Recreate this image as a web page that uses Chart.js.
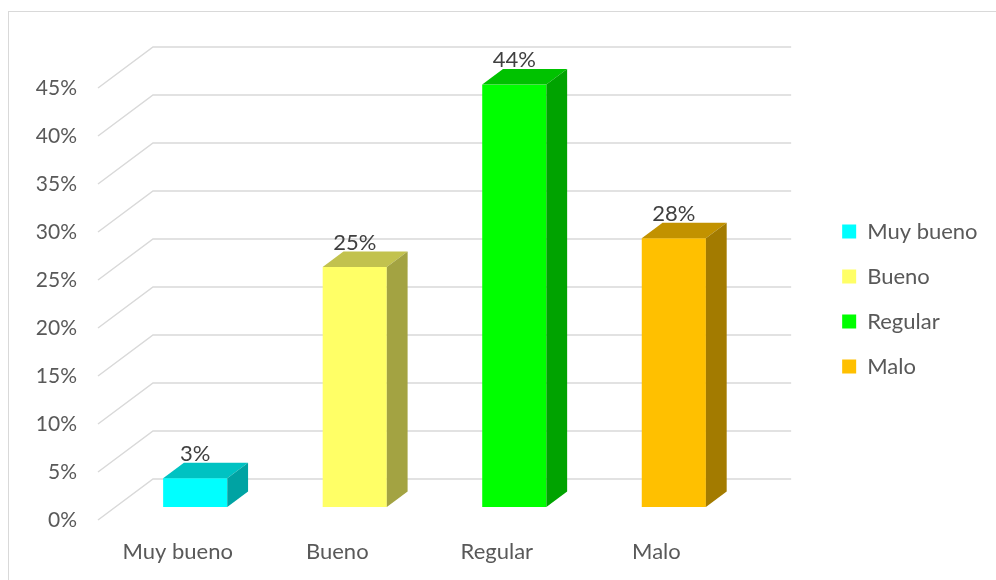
<!DOCTYPE html>
<html>
<head>
<meta charset="utf-8">
<script src="https://cdn.jsdelivr.net/npm/chart.js@4"></script>
<style>
  body { margin: 0; background: #fff; }
  #marco { position: absolute; left: 8px; top: 11px; width: 1000px; height: 600px; border: 1.5px solid #d9d9d9; }
  #grafico { position: absolute; left: 0; top: 0; }
</style>
</head>
<body>
<div id="marco"></div>
<canvas id="grafico" width="996" height="580"></canvas>
<script>
// Datos del gráfico
var categorias = ['Muy bueno', 'Bueno', 'Regular', 'Malo'];
var porcentajes = [3, 25, 44, 28];
var marcasY = [0, 5, 10, 15, 20, 25, 30, 35, 40, 45];

// Colores de cada barra: cara frontal, tapa y lateral
var coloresFrente = ['#00FFFF', '#FFFF66', '#00FF00', '#FFC000'];
var coloresTapa = ['#00C2C2', '#C2C24E', '#00C200', '#C29200'];
var coloresLado = ['#00A3A3', '#A3A342', '#00A300', '#A37B00'];

// Desplazamiento de la perspectiva (pared del fondo) y posición de las barras en profundidad
var FONDO_DX = 55, FONDO_DY = -41;
var BARRA_FRENTE = 0.317, BARRA_FONDO = 0.695;

var fuente = 'Lato, "Open Sans", sans-serif';

// Plugin que dibuja la pared con la cuadrícula y las barras en 3D
var efecto3D = {
    id: 'efecto3D',
    beforeDatasetsDraw: function (chart) {
        var ctx = chart.ctx;
        var area = chart.chartArea;
        var y = chart.scales.y;
        ctx.save();
        ctx.strokeStyle = '#d9d9d9';
        ctx.lineWidth = 1.5;
        marcasY.forEach(function (v) {
            var py = y.getPixelForValue(v);
            ctx.beginPath();
            ctx.moveTo(area.left, py);
            ctx.lineTo(area.left + FONDO_DX, py + FONDO_DY);
            ctx.lineTo(area.right + FONDO_DX, py + FONDO_DY);
            ctx.stroke();
        });
        ctx.restore();
    },
    afterDatasetsDraw: function (chart) {
        var ctx = chart.ctx;
        var meta = chart.getDatasetMeta(0);
        var dx0 = FONDO_DX * BARRA_FRENTE, dy0 = FONDO_DY * BARRA_FRENTE;
        var pdx = FONDO_DX * (BARRA_FONDO - BARRA_FRENTE), pdy = FONDO_DY * (BARRA_FONDO - BARRA_FRENTE);
        ctx.save();
        meta.data.forEach(function (bar, i) {
            var x0 = bar.x - bar.width / 2 + dx0;
            var x1 = bar.x + bar.width / 2 + dx0;
            var arriba = bar.y + dy0;
            var abajo = bar.base + dy0;

            // cara frontal
            ctx.fillStyle = coloresFrente[i];
            ctx.fillRect(x0, arriba, x1 - x0, abajo - arriba);

            // tapa
            ctx.fillStyle = coloresTapa[i];
            ctx.beginPath();
            ctx.moveTo(x0, arriba);
            ctx.lineTo(x1, arriba);
            ctx.lineTo(x1 + pdx, arriba + pdy);
            ctx.lineTo(x0 + pdx, arriba + pdy);
            ctx.closePath();
            ctx.fill();

            // lateral
            ctx.fillStyle = coloresLado[i];
            ctx.beginPath();
            ctx.moveTo(x1, arriba);
            ctx.lineTo(x1 + pdx, arriba + pdy);
            ctx.lineTo(x1 + pdx, abajo + pdy);
            ctx.lineTo(x1, abajo);
            ctx.closePath();
            ctx.fill();

            // etiqueta con el valor
            ctx.fillStyle = '#404040';
            ctx.font = '22px ' + fuente;
            ctx.textAlign = 'center';
            ctx.textBaseline = 'alphabetic';
            ctx.fillText(porcentajes[i] + '%', (x0 + x1) / 2, arriba + pdy - 2);
        });
        ctx.restore();
    }
};

var ctx = document.getElementById('grafico').getContext('2d');
var grafico = new Chart(ctx, {
    type: 'bar',
    data: {
        labels: categorias,
        datasets: [{
            label: 'Porcentaje',
            data: porcentajes,
            backgroundColor: 'rgba(0,0,0,0)',
            borderWidth: 0,
            categoryPercentage: 1,
            barPercentage: 0.402
        }]
    },
    options: {
        responsive: false,
        animation: false,
        layout: { padding: { top: 88, right: 13, bottom: 0, left: 0 } },
        plugins: {
            tooltip: { enabled: false },
            legend: {
                position: 'right',
                fullSize: false,
                onClick: null,
                // título vacío con alto negativo para subir un poco la leyenda
                title: { display: true, text: '', font: { size: 1 }, padding: { top: -11, bottom: 0 } },
                labels: {
                    boxWidth: 14,
                    boxHeight: 14,
                    padding: 23,
                    color: '#595959',
                    font: { family: fuente, size: 22 },
                    generateLabels: function () {
                        return categorias.map(function (c, i) {
                            return {
                                text: c,
                                fillStyle: coloresFrente[i],
                                strokeStyle: coloresFrente[i],
                                fontColor: '#595959',
                                lineWidth: 0,
                                index: i
                            };
                        });
                    }
                }
            }
        },
        scales: {
            x: {
                grid: { display: false, drawTicks: false },
                border: { display: false },
                ticks: { color: '#595959', font: { family: fuente, size: 22 }, padding: 19 },
                afterFit: function (s) { s.height = 60; }
            },
            y: {
                min: 0,
                max: 45,
                grid: { display: false, drawTicks: false },
                border: { display: false },
                ticks: {
                    stepSize: 5,
                    color: '#595959',
                    font: { family: fuente, size: 21 },
                    padding: 21,
                    callback: function (v) { return v + '%'; }
                },
                afterFit: function (s) { s.width = 98; }
            },
            derecha: {
                position: 'right',
                grid: { display: false, drawTicks: false },
                border: { display: false },
                ticks: { display: false },
                afterFit: function (s) { s.width = 83; }
            }
        }
    },
    plugins: [efecto3D]
});
</script>
</body>
</html>
